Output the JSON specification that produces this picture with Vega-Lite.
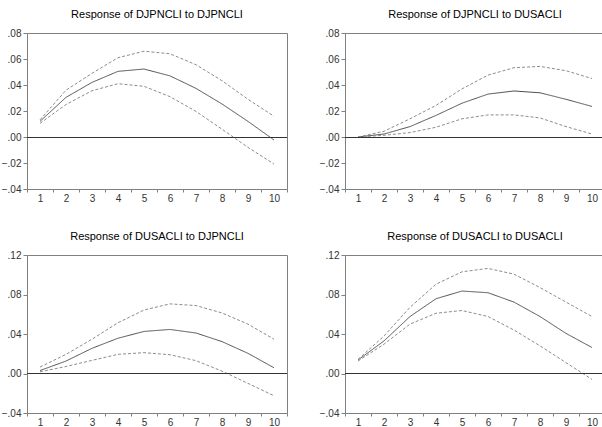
{
 "$schema": "https://vega.github.io/schema/vega-lite/v6.json",
 "padding": {"left": 0, "top": 8, "right": 0, "bottom": 0},
 "background": "white",
 "config": {
   "view": {"stroke": "#808080", "strokeWidth": 1},
   "font": "Liberation Sans",
   "title": {"fontSize": 11, "fontWeight": "normal", "color": "#000000", "offset": 8, "font": "Liberation Sans"},
   "axis": {"grid": false, "domain": false, "labelFont": "Liberation Sans", "labelFontSize": 10, "labelColor": "#333333", "tickColor": "#808080", "tickSize": 4, "title": null, "labelPadding": 2, "labelOverlap": false},
   "axisX": {"tickSize": 3, "labelPadding": 1}
 },
 "datasets": {"irf": [
  {"panel":"A","step":1,"resp":0.012,"lo":0.0105,"hi":0.0132},
  {"panel":"A","step":2,"resp":0.0305,"lo":0.025,"hi":0.036},
  {"panel":"A","step":3,"resp":0.042,"lo":0.0356,"hi":0.049},
  {"panel":"A","step":4,"resp":0.0505,"lo":0.041,"hi":0.061},
  {"panel":"A","step":5,"resp":0.0523,"lo":0.039,"hi":0.066},
  {"panel":"A","step":6,"resp":0.047,"lo":0.031,"hi":0.064},
  {"panel":"A","step":7,"resp":0.0374,"lo":0.0197,"hi":0.0556},
  {"panel":"A","step":8,"resp":0.0254,"lo":0.006,"hi":0.0433},
  {"panel":"A","step":9,"resp":0.012,"lo":-0.008,"hi":0.029},
  {"panel":"A","step":10,"resp":-0.0023,"lo":-0.0208,"hi":0.016},
  {"panel":"B","step":1,"resp":0.0,"lo":0.0,"hi":0.0},
  {"panel":"B","step":2,"resp":0.0023,"lo":0.0013,"hi":0.0044},
  {"panel":"B","step":3,"resp":0.008,"lo":0.0034,"hi":0.014},
  {"panel":"B","step":4,"resp":0.0166,"lo":0.0075,"hi":0.0243},
  {"panel":"B","step":5,"resp":0.026,"lo":0.014,"hi":0.037},
  {"panel":"B","step":6,"resp":0.033,"lo":0.017,"hi":0.0476},
  {"panel":"B","step":7,"resp":0.0354,"lo":0.017,"hi":0.0533},
  {"panel":"B","step":8,"resp":0.034,"lo":0.0147,"hi":0.0543},
  {"panel":"B","step":9,"resp":0.029,"lo":0.008,"hi":0.051},
  {"panel":"B","step":10,"resp":0.0235,"lo":0.0023,"hi":0.045},
  {"panel":"C","step":1,"resp":0.003,"lo":0.0017,"hi":0.0065},
  {"panel":"C","step":2,"resp":0.0126,"lo":0.0071,"hi":0.0194},
  {"panel":"C","step":3,"resp":0.0255,"lo":0.0133,"hi":0.0347},
  {"panel":"C","step":4,"resp":0.0357,"lo":0.0194,"hi":0.0514},
  {"panel":"C","step":5,"resp":0.0426,"lo":0.0211,"hi":0.0643},
  {"panel":"C","step":6,"resp":0.0446,"lo":0.019,"hi":0.0705},
  {"panel":"C","step":7,"resp":0.041,"lo":0.013,"hi":0.0688},
  {"panel":"C","step":8,"resp":0.0323,"lo":0.0024,"hi":0.0613},
  {"panel":"C","step":9,"resp":0.0204,"lo":-0.01,"hi":0.05},
  {"panel":"C","step":10,"resp":0.0058,"lo":-0.0225,"hi":0.0347},
  {"panel":"D","step":1,"resp":0.0136,"lo":0.0126,"hi":0.0143},
  {"panel":"D","step":2,"resp":0.033,"lo":0.0297,"hi":0.038},
  {"panel":"D","step":3,"resp":0.0577,"lo":0.05,"hi":0.067},
  {"panel":"D","step":4,"resp":0.0757,"lo":0.061,"hi":0.0904},
  {"panel":"D","step":5,"resp":0.0835,"lo":0.0638,"hi":0.103},
  {"panel":"D","step":6,"resp":0.0818,"lo":0.0577,"hi":0.1064},
  {"panel":"D","step":7,"resp":0.0723,"lo":0.044,"hi":0.1006},
  {"panel":"D","step":8,"resp":0.0577,"lo":0.028,"hi":0.087},
  {"panel":"D","step":9,"resp":0.0406,"lo":0.011,"hi":0.0723},
  {"panel":"D","step":10,"resp":0.0263,"lo":-0.006,"hi":0.0577}
 ]},
 "columns": 2,
 "spacing": {"row": 26, "column": 30},
 "concat": [
  {
   "width": 260, "height": 156,
   "title": "Response of DJPNCLI to DJPNCLI",
   "data": {"name": "irf"},
   "transform": [{"filter": "datum.panel === 'A'"}, {"fold": ["resp", "lo", "hi"], "as": ["series", "value"]}],
   "layer": [
    {"mark": {"type": "line", "strokeWidth": 1},
     "encoding": {
      "x": {"field": "step", "type": "ordinal", "bandPosition": 0.5, "scale": {"type": "band", "paddingInner": 0, "paddingOuter": 0}, "axis": {"labelAngle": 0, "tickBand": "extent"}},
      "y": {"field": "value", "type": "quantitative", "scale": {"domain": [-0.04, 0.08], "nice": false, "zero": false}, "axis": {"values": [-0.04, -0.02, 0, 0.02, 0.04, 0.06, 0.08], "labelExpr": "replace(format(datum.value, '.2f'), '0.', '.')"}},
      "detail": {"field": "series"},
      "color": {"field": "series", "scale": {"domain": ["resp", "lo", "hi"], "range": ["#4d4d4d", "#8c8c8c", "#8c8c8c"]}, "legend": null},
      "strokeDash": {"field": "series", "scale": {"domain": ["resp", "lo", "hi"], "range": [[1, 0], [3, 2], [3, 2]]}, "legend": null}
     }},
    {"mark": {"type": "rule", "color": "#333333", "strokeWidth": 1, "yOffset": 0.5}, "encoding": {"y": {"datum": 0, "axis": {"values": [-0.04, -0.02, 0, 0.02, 0.04, 0.06, 0.08], "labelExpr": "replace(format(datum.value, '.2f'), '0.', '.')"}}}}
   ]
  },
  {
   "width": 260, "height": 156,
   "title": "Response of DJPNCLI to DUSACLI",
   "data": {"name": "irf"},
   "transform": [{"filter": "datum.panel === 'B'"}, {"fold": ["resp", "lo", "hi"], "as": ["series", "value"]}],
   "layer": [
    {"mark": {"type": "line", "strokeWidth": 1},
     "encoding": {
      "x": {"field": "step", "type": "ordinal", "bandPosition": 0.5, "scale": {"type": "band", "paddingInner": 0, "paddingOuter": 0}, "axis": {"labelAngle": 0, "tickBand": "extent"}},
      "y": {"field": "value", "type": "quantitative", "scale": {"domain": [-0.04, 0.08], "nice": false, "zero": false}, "axis": {"values": [-0.04, -0.02, 0, 0.02, 0.04, 0.06, 0.08], "labelExpr": "replace(format(datum.value, '.2f'), '0.', '.')"}},
      "detail": {"field": "series"},
      "color": {"field": "series", "scale": {"domain": ["resp", "lo", "hi"], "range": ["#4d4d4d", "#8c8c8c", "#8c8c8c"]}, "legend": null},
      "strokeDash": {"field": "series", "scale": {"domain": ["resp", "lo", "hi"], "range": [[1, 0], [3, 2], [3, 2]]}, "legend": null}
     }},
    {"mark": {"type": "rule", "color": "#333333", "strokeWidth": 1, "yOffset": 0.5}, "encoding": {"y": {"datum": 0, "axis": {"values": [-0.04, -0.02, 0, 0.02, 0.04, 0.06, 0.08], "labelExpr": "replace(format(datum.value, '.2f'), '0.', '.')"}}}}
   ]
  },
  {
   "width": 260, "height": 158,
   "title": "Response of DUSACLI to DJPNCLI",
   "data": {"name": "irf"},
   "transform": [{"filter": "datum.panel === 'C'"}, {"fold": ["resp", "lo", "hi"], "as": ["series", "value"]}],
   "layer": [
    {"mark": {"type": "line", "strokeWidth": 1},
     "encoding": {
      "x": {"field": "step", "type": "ordinal", "bandPosition": 0.5, "scale": {"type": "band", "paddingInner": 0, "paddingOuter": 0}, "axis": {"labelAngle": 0, "tickBand": "extent"}},
      "y": {"field": "value", "type": "quantitative", "scale": {"domain": [-0.04, 0.12], "nice": false, "zero": false}, "axis": {"values": [-0.04, 0, 0.04, 0.08, 0.12], "labelExpr": "replace(format(datum.value, '.2f'), '0.', '.')"}},
      "detail": {"field": "series"},
      "color": {"field": "series", "scale": {"domain": ["resp", "lo", "hi"], "range": ["#4d4d4d", "#8c8c8c", "#8c8c8c"]}, "legend": null},
      "strokeDash": {"field": "series", "scale": {"domain": ["resp", "lo", "hi"], "range": [[1, 0], [3, 2], [3, 2]]}, "legend": null}
     }},
    {"mark": {"type": "rule", "color": "#333333", "strokeWidth": 1}, "encoding": {"y": {"datum": 0, "axis": {"values": [-0.04, 0, 0.04, 0.08, 0.12], "labelExpr": "replace(format(datum.value, '.2f'), '0.', '.')"}}}}
   ]
  },
  {
   "width": 260, "height": 158,
   "title": "Response of DUSACLI to DUSACLI",
   "data": {"name": "irf"},
   "transform": [{"filter": "datum.panel === 'D'"}, {"fold": ["resp", "lo", "hi"], "as": ["series", "value"]}],
   "layer": [
    {"mark": {"type": "line", "strokeWidth": 1},
     "encoding": {
      "x": {"field": "step", "type": "ordinal", "bandPosition": 0.5, "scale": {"type": "band", "paddingInner": 0, "paddingOuter": 0}, "axis": {"labelAngle": 0, "tickBand": "extent"}},
      "y": {"field": "value", "type": "quantitative", "scale": {"domain": [-0.04, 0.12], "nice": false, "zero": false}, "axis": {"values": [-0.04, 0, 0.04, 0.08, 0.12], "labelExpr": "replace(format(datum.value, '.2f'), '0.', '.')"}},
      "detail": {"field": "series"},
      "color": {"field": "series", "scale": {"domain": ["resp", "lo", "hi"], "range": ["#4d4d4d", "#8c8c8c", "#8c8c8c"]}, "legend": null},
      "strokeDash": {"field": "series", "scale": {"domain": ["resp", "lo", "hi"], "range": [[1, 0], [3, 2], [3, 2]]}, "legend": null}
     }},
    {"mark": {"type": "rule", "color": "#333333", "strokeWidth": 1}, "encoding": {"y": {"datum": 0, "axis": {"values": [-0.04, 0, 0.04, 0.08, 0.12], "labelExpr": "replace(format(datum.value, '.2f'), '0.', '.')"}}}}
   ]
  }
 ]
}
